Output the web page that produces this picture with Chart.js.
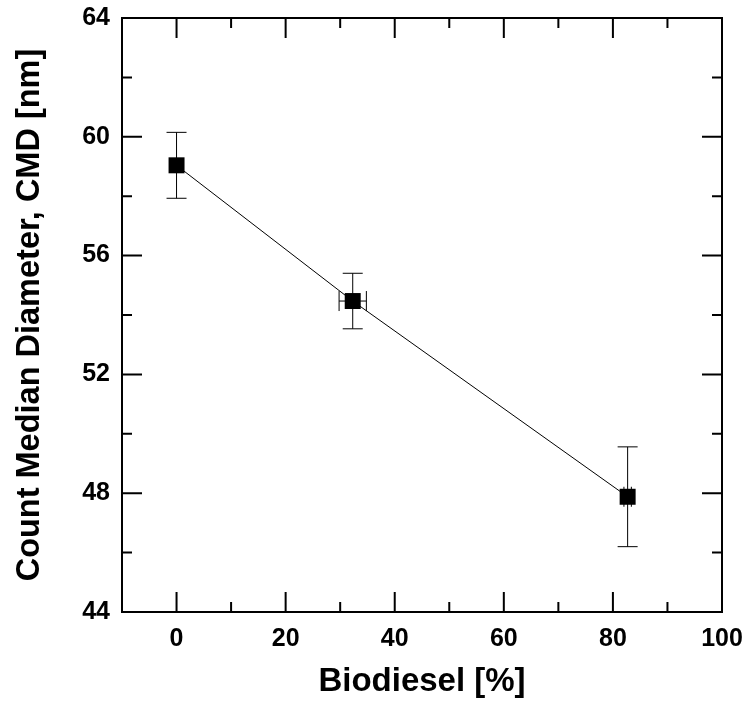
<!DOCTYPE html>
<html>
<head>
<meta charset="utf-8">
<script src="https://cdn.jsdelivr.net/npm/chart.js@4"></script>
<style>html,body{margin:0;padding:0;background:#fff;}canvas{display:block;}</style>
</head>
<body>
<canvas id="c" width="752" height="704"></canvas>
<script>
const biodiesel = [0, 32.3, 82.7];
const cmd = [59.04, 54.47, 47.88];
const cmdErr = [1.11, 0.935, 1.68];
const biodieselErr = [0, 2.5, 0.68];
const xTicks = [0, 20, 40, 60, 80, 100];
const xMinorTicks = [10, 30, 50, 70, 90];
const yTicks = [44, 48, 52, 56, 60, 64];
const yMinorTicks = [46, 50, 54, 58, 62];

const FONT = '"Liberation Sans", Arial, sans-serif';

const framePlugin = {
  id: 'frame',
  beforeDatasetsDraw(chart) {
    const ctx = chart.ctx;
    const xs = chart.scales.x, ys = chart.scales.y;
    ctx.save();
    ctx.strokeStyle = '#000';
    ctx.lineWidth = 1;
    const cap = 10;
    biodiesel.forEach((xv, i) => {
      const px = xs.getPixelForValue(xv), py = ys.getPixelForValue(cmd[i]);
      if (cmdErr[i] > 0) {
        const t = ys.getPixelForValue(cmd[i] + cmdErr[i]);
        const b = ys.getPixelForValue(cmd[i] - cmdErr[i]);
        ctx.beginPath();
        ctx.moveTo(px, t); ctx.lineTo(px, b);
        ctx.moveTo(px - cap, t); ctx.lineTo(px + cap, t);
        ctx.moveTo(px - cap, b); ctx.lineTo(px + cap, b);
        ctx.stroke();
      }
      if (biodieselErr[i] > 0) {
        const l = xs.getPixelForValue(xv - biodieselErr[i]);
        const r = xs.getPixelForValue(xv + biodieselErr[i]);
        ctx.beginPath();
        ctx.moveTo(l, py); ctx.lineTo(r, py);
        ctx.moveTo(l, py - cap); ctx.lineTo(l, py + cap);
        ctx.moveTo(r, py - cap); ctx.lineTo(r, py + cap);
        ctx.stroke();
      }
    });
    ctx.restore();
  },
  afterDraw(chart) {
    const ctx = chart.ctx, a = chart.chartArea;
    const xs = chart.scales.x, ys = chart.scales.y;
    ctx.save();
    ctx.strokeStyle = '#000';
    ctx.lineWidth = 2;
    ctx.strokeRect(a.left, a.top, a.right - a.left, a.bottom - a.top);
    const major = 20, minor = 10;
    ctx.beginPath();
    const vx = (v, len) => {
      const p = xs.getPixelForValue(v);
      ctx.moveTo(p, a.bottom); ctx.lineTo(p, a.bottom - len);
      ctx.moveTo(p, a.top); ctx.lineTo(p, a.top + len);
    };
    const hy = (v, len) => {
      const p = ys.getPixelForValue(v);
      ctx.moveTo(a.left, p); ctx.lineTo(a.left + len, p);
      ctx.moveTo(a.right, p); ctx.lineTo(a.right - len, p);
    };
    xTicks.forEach(v => vx(v, major));
    xMinorTicks.forEach(v => vx(v, minor));
    yTicks.forEach(v => hy(v, major));
    yMinorTicks.forEach(v => hy(v, minor));
    ctx.stroke();
    ctx.restore();
  }
};

new Chart(document.getElementById('c'), {
  type: 'scatter',
  data: {
    datasets: [{
      data: biodiesel.map((x, i) => ({ x: x, y: cmd[i] })),
      showLine: true,
      borderColor: '#000',
      borderWidth: 1,
      pointStyle: 'rect',
      pointRadius: 11.3,
      pointBackgroundColor: '#000',
      pointBorderColor: '#000',
      pointBorderWidth: 0,
      pointHoverRadius: 11.3
    }]
  },
  options: {
    responsive: false,
    animation: false,
    events: [],
    layout: { padding: { top: 18, right: 30, left: 0, bottom: 0 } },
    plugins: { legend: { display: false }, tooltip: { enabled: false } },
    scales: {
      x: {
        type: 'linear',
        min: -10, max: 100,
        afterBuildTicks: s => { s.ticks = xTicks.map(v => ({ value: v })); },
        afterFit: s => { s.height = 92; s.paddingLeft = 0; s.paddingRight = 0; },
        grid: { display: false, drawTicks: false },
        border: { display: false },
        ticks: { color: '#000', padding: 12, maxRotation: 0, font: { family: FONT, size: 25, weight: 'bold' } },
        title: { display: true, text: 'Biodiesel [%]', color: '#000', padding: { top: 0, bottom: 6 },
                 font: { family: FONT, size: 33, weight: 'bold', lineHeight: 1 } }
      },
      y: {
        type: 'linear',
        min: 44, max: 64,
        afterBuildTicks: s => { s.ticks = yTicks.map(v => ({ value: v })); },
        afterFit: s => { s.width = 122; s.paddingTop = 0; s.paddingBottom = 0; },
        grid: { display: false, drawTicks: false },
        border: { display: false },
        ticks: { color: '#000', padding: 12, font: { family: FONT, size: 25, weight: 'bold' } },
        title: { display: true, text: 'Count Median Diameter, CMD [nm]', color: '#000', padding: { top: 14, bottom: 0 },
                 font: { family: FONT, size: 32.5, weight: 'bold', lineHeight: 1 } }
      }
    }
  },
  plugins: [framePlugin]
});
</script>
</body>
</html>
